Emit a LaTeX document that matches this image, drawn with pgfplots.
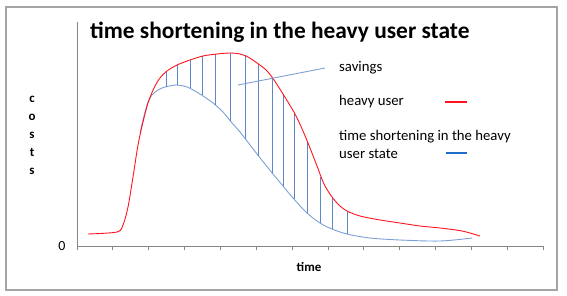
\documentclass[border=0pt]{standalone}
\usepackage{pgfplots}
\pgfplotsset{compat=1.18}
\usepackage{fontspec}
\setmainfont{Carlito}
\definecolor{redline}{RGB}{255,20,30}
\definecolor{bluecurve}{RGB}{125,160,212}
\definecolor{hatch}{RGB}{95,135,200}
\definecolor{legblue}{RGB}{30,110,200}
\definecolor{axgray}{RGB}{134,134,134}
\definecolor{framegray}{RGB}{165,165,165}
\begin{document}
\begin{tikzpicture}
\begin{axis}[
 scale only axis, width=466bp, height=224bp,
 xmin=77, xmax=543, ymin=0, ymax=224,
 axis x line=bottom, axis y line=left,
 axis line style={-, axgray, line width=0.8bp},
 xtick={77,112.85,148.69,184.54,220.38,256.23,292.08,327.92,363.77,399.62,435.46,471.31,507.15,543},
 xticklabels={},
 tick align=outside, major tick length=3.5bp,
 xtick style={axgray, line width=0.8bp},
 ytick=\empty,
 clip=false,
 unbounded coords=jump,
]
\coordinate (bbA) at (axis cs:0,246);
\coordinate (bbB) at (axis cs:567,-50);
% blue curve
\addplot[bluecurve, line width=0.9bp, smooth, tension=0.55] coordinates {
(140,113) (144,130) (148,144) (152,151) (158,156) (165,159) (177,161) (187,159)
(195,155) (203,150) (213,143) (223,134) (232,123) (240,114) (257,92) (273,72)
(283,60) (293,48) (307,33) (320,23) (332,17) (347,12) (370,8) (400,6) (440,5) (472,8)};
% hatch lines
\addplot[hatch, line width=0.7bp] coordinates {
(166,175) (166,159) (166,nan)
(177,181) (177,161) (177,nan)
(190,186) (190,158) (190,nan)
(202,190) (202,151) (202,nan)
(215,192) (215,141) (215,nan)
(230,193) (230,125) (230,nan)
(245,191) (245,107) (245,nan)
(258,182) (258,90) (258,nan)
(272,169) (272,73) (272,nan)
(283,152) (283,60) (283,nan)
(294,133) (294,47) (294,nan)
(307,105) (307,33) (307,nan)
(320,69) (320,23) (320,nan)
(332,49) (332,17) (332,nan)
(347,35) (347,12)};
% red curve
\addplot[redline, line width=0.9bp, smooth, tension=0.5] coordinates {
(88,12) (117,14) (123,21) (128,39) (133,69) (138,101) (143,124) (148,143)
(154,158) (160,168) (167,175) (177,181) (190,186) (203,190) (217,192) (230,193)
(240,192) (248,189) (257,183) (265,177) (272,169) (283,152) (295,132) (303,115)
(310,98) (317,80) (324,62) (332,49) (340,40) (347,35) (360,30) (380,26)
(400,23) (420,20) (440,18) (462,15) (480,10)};
% savings pointer
\addplot[bluecurve, line width=0.9bp] coordinates {(238,161) (325,178)};
% legend-like annotations
\addplot[redline, line width=1.8bp] coordinates {(445,144) (467,144)};
\addplot[legblue, line width=1.8bp] coordinates {(446,93) (467,93)};
\node[anchor=base west, inner sep=0, font=\fontsize{14.8}{17}\selectfont] at (axis cs:339,175) {savings};
\node[anchor=base west, inner sep=0, font=\fontsize{14.8}{17}\selectfont] at (axis cs:339,141) {heavy user};
\node[anchor=base west, inner sep=0, font=\fontsize{14.8}{17}\selectfont] at (axis cs:339,106) {time shortening in the heavy};
\node[anchor=base west, inner sep=0, font=\fontsize{14.8}{17}\selectfont] at (axis cs:339,88) {user state};
% title
\node[anchor=base west, inner sep=0, font=\bfseries\fontsize{23.5}{27}\selectfont] at (axis cs:90,208) {time shortening in the heavy user state};
% axis labels
\node[inner sep=0, align=center, font=\bfseries\fontsize{13}{18}\selectfont] at (axis cs:32,111) {c\\o\\s\\t\\s};
\node[inner sep=0, font=\bfseries\fontsize{13}{15}\selectfont] at (axis cs:309,-21) {time};
\node[inner sep=0, font=\fontsize{14}{16}\selectfont] at (axis cs:62,0) {0};
% frame
\draw[framegray, line width=1.2bp] (axis cs:6,239) rectangle (axis cs:557,-44);
\end{axis}
\pgfresetboundingbox
\path[use as bounding box] (bbA) rectangle (bbB);
\end{tikzpicture}
\end{document}
